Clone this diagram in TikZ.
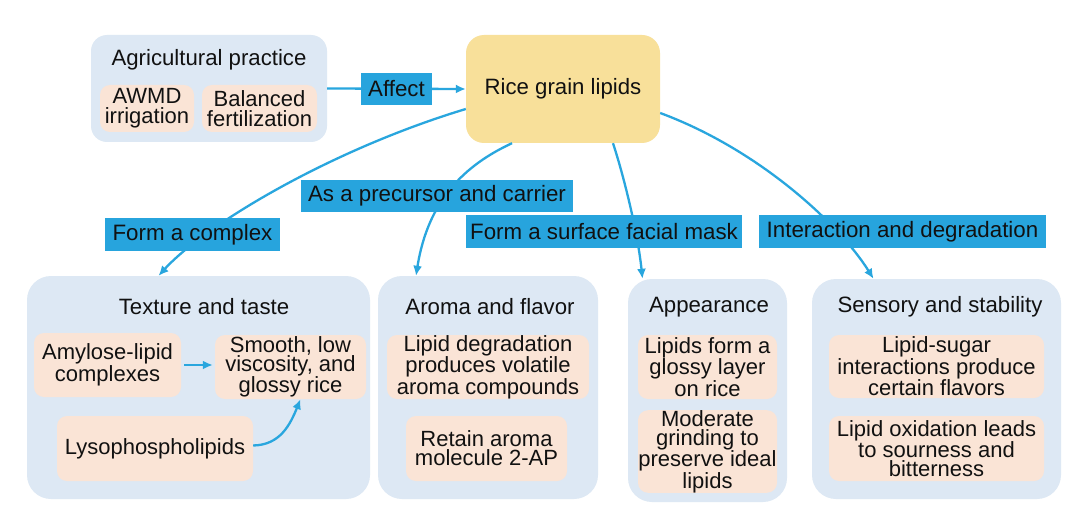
\documentclass[tikz,border=0pt]{standalone}
\usepackage{fontspec}
\setmainfont{Liberation Sans}
\usetikzlibrary{arrows.meta}
\definecolor{bgblue}{HTML}{DDE8F4}
\definecolor{peach}{HTML}{FAE4D6}
\definecolor{riceyel}{HTML}{F8E09A}
\definecolor{lblblue}{HTML}{27A4DD}
\definecolor{arrblue}{HTML}{29A6DE}
\definecolor{txt}{HTML}{111111}
\tikzset{
  bigbox/.style={fill=bgblue, draw=none, rounded corners=24pt, inner sep=0pt},
  inbox/.style={fill=peach, draw=none, rounded corners=10pt, inner sep=0pt, align=center, text=txt,
     font=\fontsize{22}{19}\selectfont},
  ttl/.style={inner sep=0pt, text=txt, font=\fontsize{22.2}{24}\selectfont},
  lbl/.style={fill=lblblue, draw=none, inner sep=0pt, text=txt, font=\fontsize{22.3}{24}\selectfont},
  arr/.style={draw=arrblue, line width=2.3pt, -{Latex[length=10pt,width=9pt]}},
}
\begin{document}
\begin{tikzpicture}[x=1pt,y=-1pt]
\useasboundingbox (0,0) rectangle (1079,524);
\fill[white] (0,0) rectangle (1079,524);

% top row
\node[bigbox, rounded corners=16pt, minimum width=236pt, minimum height=107pt] (agri) at (209,88.5) {};
\node[ttl] (agrit) at (209,60) {Agricultural practice};
\node[inbox, font=\fontsize{22}{20}\selectfont, minimum width=94pt, minimum height=47pt] (awmd) at (147,108.5) {AWMD\\irrigation};
\node[inbox, font=\fontsize{22}{20}\selectfont, minimum width=115pt, minimum height=47pt] (bal) at (259.5,108.5) {Balanced\\fertilization};
\node[fill=riceyel, rounded corners=18pt, inner sep=0pt, minimum width=194pt, minimum height=108pt, text=txt, font=\fontsize{22.2}{24}\selectfont] (rice) at (563,89) {Rice grain lipids};

% bottom groups
\node[bigbox, minimum width=343pt, minimum height=223pt] (tex) at (198.5,387.5) {};
\node[ttl] (text) at (204,307) {Texture and taste};
\node[inbox, minimum width=147pt, minimum height=64pt] (amy) at (107.5,365) {Amylose-lipid\\complexes};
\node[inbox, minimum width=151pt, minimum height=64pt] (smooth) at (290.5,367) {Smooth, low\\viscosity, and\\glossy rice};
\node[inbox, minimum width=196pt, minimum height=65pt] (lyso) at (155,448.5) {Lysophospholipids};

\node[bigbox, minimum width=220pt, minimum height=223pt] (aroma) at (488,387.5) {};
\node[ttl] (aromat) at (490,307) {Aroma and flavor};
\node[inbox, minimum width=202pt, minimum height=64pt] (lipdeg) at (488,367) {Lipid degradation\\produces volatile\\aroma compounds};
\node[inbox, minimum width=161pt, minimum height=65pt] (retain) at (486.5,448.5) {Retain aroma\\molecule 2-AP};

\node[bigbox, minimum width=159pt, minimum height=223pt] (appear) at (707.5,390.5) {};
\node[ttl] (appeart) at (709,307) {Appearance};
\node[inbox, minimum width=139pt, minimum height=64pt] (glossy) at (707.5,367) {Lipids form a\\glossy layer\\on rice};
\node[inbox, minimum width=139pt, minimum height=81pt] (moder) at (707.5,451.5) {Moderate\\grinding to\\preserve ideal\\lipids};

\node[bigbox, minimum width=249pt, minimum height=220pt] (sens) at (936.5,389) {};
\node[ttl] (senst) at (940,307) {Sensory and stability};
\node[inbox, minimum width=215pt, minimum height=63pt] (sugar) at (936.5,366.5) {Lipid-sugar\\interactions produce\\certain flavors};
\node[inbox, minimum width=215pt, minimum height=65pt] (oxid) at (936.5,448.5) {Lipid oxidation leads\\to sourness and\\bitterness};

% connectors
\draw[arr] (agri.east) -- (rice.west);
\draw[arr] ([yshift=-20pt]rice.west) .. controls (330,150) and (205,225) .. ([xshift=-40pt]tex.north);
\draw[arr] ([xshift=-51pt]rice.south) .. controls (465,165) and (428,200) .. ([xshift=-72pt]aroma.north);
\draw[arr] ([xshift=50pt]rice.south) .. controls (625,180) and (638,235) .. ([xshift=-65pt]appear.north);
\draw[arr] ([yshift=-24pt]rice.east) .. controls (760,150) and (840,225) .. ([xshift=-63pt]sens.north);
\draw[arr, shorten <=3pt, shorten >=2pt] (amy.east) -- (amy.east -| smooth.west);
\draw[arr] ([yshift=3pt]lyso.east) .. controls (280,445) and (290,425) .. ([xshift=10pt]smooth.south);

% labels
\node[lbl, minimum width=71pt, minimum height=32pt] (laff) at (396.5,89) {Affect};
\node[lbl, minimum width=175pt, minimum height=33pt] (lcomp) at (192.5,234.5) {Form a complex};
\node[lbl, minimum width=272pt, minimum height=32pt] (lprec) at (437,196) {As a precursor and carrier};
\node[lbl, minimum width=276pt, minimum height=33pt] (lsurf) at (604,231.5) {Form a surface facial mask};
\node[lbl, minimum width=287pt, minimum height=33pt] (linter) at (902.5,231.5) {Interaction and degradation};
\end{tikzpicture}
\end{document}
